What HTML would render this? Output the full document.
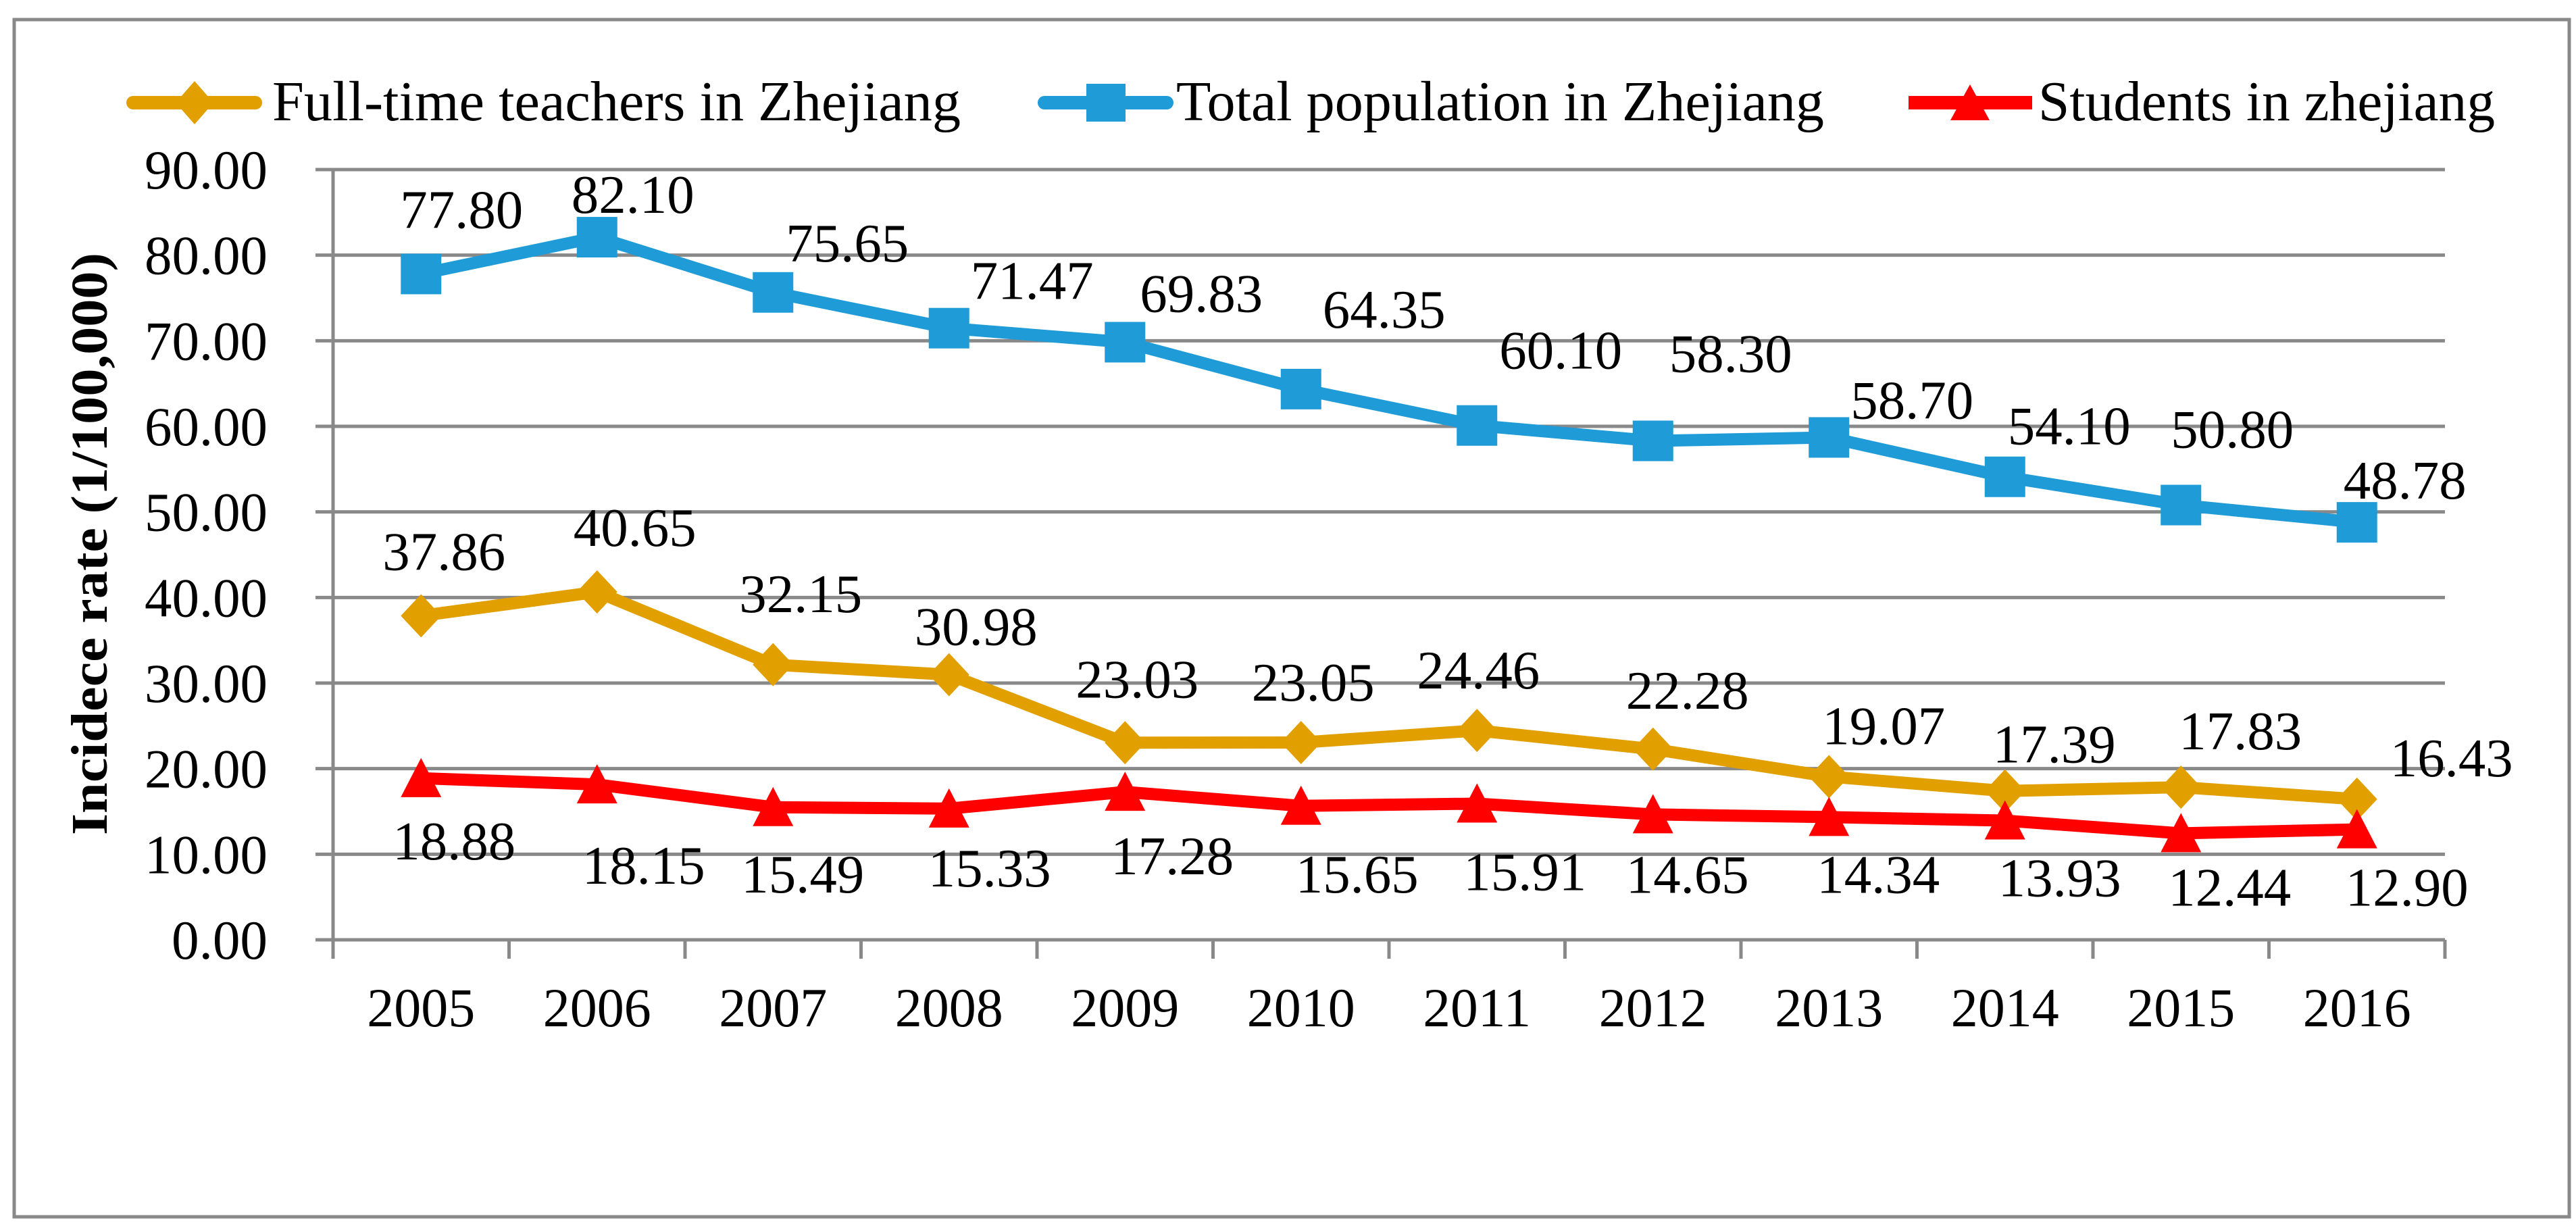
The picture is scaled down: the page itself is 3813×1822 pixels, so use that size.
<!DOCTYPE html>
<html><head><meta charset="utf-8"><style>
html,body{margin:0;padding:0;background:#fff;}
svg{display:block;}
text{font-family:"Liberation Serif","Times New Roman",serif;fill:#000;}
</style></head><body>
<svg id="chart" width="3813" height="1822" viewBox="0 0 3813 1822" xmlns="http://www.w3.org/2000/svg">
<rect x="0" y="0" width="3813" height="1822" fill="#fff"/>
<rect x="21" y="29" width="3782" height="1772" fill="none" stroke="#898989" stroke-width="5"/>
<g id="grid"></g><g id="axes"></g><g id="series"></g><g id="labels"></g>
<g id="legend">
  <g>
    <line x1="197" y1="152" x2="378" y2="152" stroke="#E2A000" stroke-width="20" stroke-linecap="round"/>
    <polygon points="288,120 316,152 288,184 260,152" fill="#E2A000"/>
    <text x="403" y="178" font-size="84" textLength="1019" lengthAdjust="spacingAndGlyphs">Full-time teachers in Zhejiang</text>
  </g>
  <g>
    <line x1="1546" y1="152" x2="1727" y2="152" stroke="#1F9BD7" stroke-width="20" stroke-linecap="round"/>
    <rect x="1608" y="124" width="58" height="56" fill="#1F9BD7"/>
    <text x="1741" y="178" font-size="84" textLength="959" lengthAdjust="spacingAndGlyphs">Total population in Zhejiang</text>
  </g>
  <g>
    <line x1="2825" y1="152" x2="3008" y2="152" stroke="#FF0000" stroke-width="20"/>
    <polygon points="2916,125 2945,178 2887,178" fill="#FF0000"/>
    <text x="3017" y="178" font-size="84" textLength="676" lengthAdjust="spacingAndGlyphs">Students in zhejiang</text>
  </g>
</g>
<text x="0" y="0" font-size="76" font-weight="bold" text-anchor="middle" textLength="862" lengthAdjust="spacingAndGlyphs" transform="translate(158,805) rotate(-90)">Incidece rate (1/100,000)</text>
</svg>
<script>
const categories = ["2005","2006","2007","2008","2009","2010","2011","2012","2013","2014","2015","2016"];
const teachers = [37.86,40.65,32.15,30.98,23.03,23.05,24.46,22.28,19.07,17.39,17.83,16.43];
const population = [77.80,82.10,75.65,71.47,69.83,64.35,60.10,58.30,58.70,54.10,50.80,48.78];
const students = [18.88,18.15,15.49,15.33,17.28,15.65,15.91,14.65,14.34,13.93,12.44,12.90];
const yTicks = [0,10,20,30,40,50,60,70,80,90];
const yTickLabels = ["0.00","10.00","20.00","30.00","40.00","50.00","60.00","70.00","80.00","90.00"];

const NS = "http://www.w3.org/2000/svg";
const X0 = 493, X1 = 3619, Y0 = 1391, Y90 = 251;
const step = (X1 - X0) / categories.length;
function xs(i){ return X0 + step * (i + 0.5); }
function ys(v){ return Y0 - (v / 90) * (Y0 - Y90); }
function mk(tag, attrs, parent){ const e = document.createElementNS(NS, tag); for (const k in attrs) e.setAttribute(k, attrs[k]); parent.appendChild(e); return e; }
function numWidth(s){ return s.length === 4 ? 142 : 182; }

const grid = document.getElementById('grid');
const axes = document.getElementById('axes');
const G = "#898989";
yTicks.forEach((t, i) => {
  const y = ys(t);
  const gl = mk('line', {x1: 467, y1: y, x2: X1, y2: y, stroke: G, 'stroke-width': 5}, grid);
  
  
  const tl = mk('text', {x: 396, y: y + 28, 'font-size': 82, 'text-anchor': 'end', textLength: numWidth(yTickLabels[i]), lengthAdjust: 'spacingAndGlyphs'}, axes);
  tl.textContent = yTickLabels[i];
  
  
});
const ya = mk('line', {x1: X0, y1: Y90, x2: X0, y2: Y0 + 2, stroke: G, 'stroke-width': 5}, axes);


for (let i = 0; i <= categories.length; i++) {
  const x = X0 + step * i;
  const tk = mk('line', {x1: x, y1: Y0, x2: x, y2: 1419, stroke: G, 'stroke-width': 5}, axes);
  
  
}
categories.forEach((c, i) => {
  const t = mk('text', {x: xs(i), y: 1519, 'font-size': 82, 'text-anchor': 'middle', textLength: 160, lengthAdjust: 'spacingAndGlyphs'}, axes);
  t.textContent = c;
  
  
});

// label placement nudges (pixel offsets from each point, layout only)
const popNudge = [[60,-96],[53,-64],[110,-74],[123,-71],[113,-73],[123,-119],[124,-112],[115,-130],[123,-56],[95,-76],[76,-113],[71,-63]];
const teaNudge = [[34,-96],[56,-96],[41,-106],[40,-72],[18,-95],[18,-90],[2,-90],[51,-88],[81,-76],[73,-70],[88,-84],[140,-62]];
const stuNudge = [[49,92],[69,119],[44,98],[60,87],[70,94],[83,100],[71,100],[51,88],[73,84],[81,84],[72,79],[74,85]];

const seriesG = document.getElementById('series');
const labelsG = document.getElementById('labels');
function drawSeries(vals, color, shape, name, nudge){
  const g = mk('g', {}, seriesG);
  
  
  const pts = vals.map((v, i) => xs(i) + ',' + ys(v)).join(' ');
  const pl = mk('polyline', {points: pts, fill: 'none', stroke: color, 'stroke-width': 18, 'stroke-linejoin': 'round'}, g);
  
  
  vals.forEach((v, i) => {
    const x = xs(i), y = ys(v);
    let m;
    if (shape === 'square') m = mk('rect', {x: x - 30, y: y - 30, width: 60, height: 60, fill: color}, g);
    else if (shape === 'diamond') m = mk('polygon', {points: `${x},${y-32} ${x+30},${y} ${x},${y+32} ${x-30},${y}`, fill: color}, g);
    else m = mk('polygon', {points: `${x},${y-30} ${x+30},${y+28} ${x-30},${y+28}`, fill: color}, g);
    
    
    const s = v.toFixed(2);
    const t = mk('text', {x: x + nudge[i][0], y: y + nudge[i][1] + 28, 'font-size': 81, 'text-anchor': 'middle', textLength: numWidth(s), lengthAdjust: 'spacingAndGlyphs'}, labelsG);
    t.textContent = s;
    
    
  });
}
drawSeries(population, '#1F9BD7', 'square', 'population', popNudge);
drawSeries(teachers, '#E2A000', 'diamond', 'teachers', teaNudge);
drawSeries(students, '#FF0000', 'triangle', 'students', stuNudge);
</script>
</body></html>
